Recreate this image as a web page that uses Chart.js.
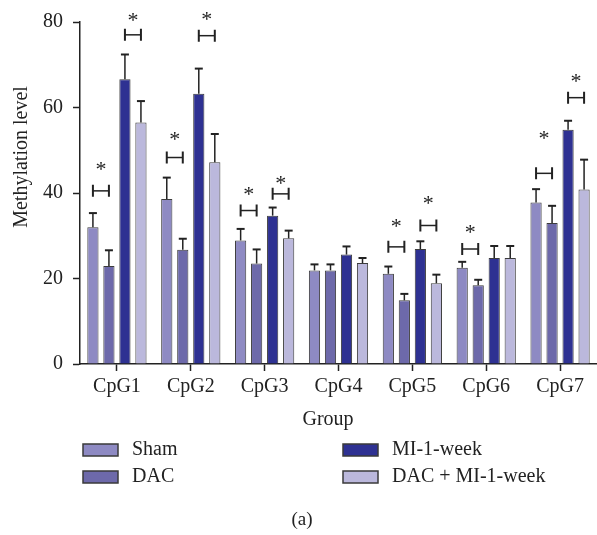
<!DOCTYPE html>
<html>
<head>
<meta charset="utf-8">
<script src="https://cdn.jsdelivr.net/npm/chart.js@4"></script>
<style>
html, body { margin: 0; padding: 0; background: #fff; }
canvas { display: block; }
</style>
</head>
<body>
<canvas id="graficoMetilacion" width="597" height="535"></canvas>
<script>
/* ── DATOS ──
Valores (nivel de metilación por sitio CpG). */
var categorias = ['CpG1', 'CpG2', 'CpG3', 'CpG4', 'CpG5', 'CpG6', 'CpG7'];
var nombresSeries = ['Sham', 'DAC', 'MI-1-week', 'DAC + MI-1-week'];
var valoresSham = [32.0, 38.6, 28.9, 21.9, 21.1, 22.5, 37.8];
var valoresDAC = [22.9, 26.7, 23.5, 21.9, 14.9, 18.4, 33.0];
var valoresMI = [66.6, 63.2, 34.7, 25.6, 26.9, 24.8, 54.8];
var valoresDACMI = [56.5, 47.2, 29.4, 23.6, 18.9, 24.8, 40.8];
/* Desviación (solo hacia arriba) de cada barra */
var errorSham = [3.3, 5.0, 2.7, 1.4, 1.7, 1.4, 3.1];
var errorDAC = [3.7, 2.6, 3.3, 1.4, 1.5, 1.3, 4.0];
var errorMI = [5.8, 5.9, 1.9, 1.9, 1.8, 2.8, 2.1];
var errorDACMI = [5.0, 6.6, 1.8, 1.2, 2.0, 2.8, 7.0];
/* Marcas del eje Y */
var ticksY = [0, 20, 40, 60, 80];
/* Comparaciones significativas: categoría, primera serie (se compara con la siguiente),
 nivel de la barra horizontal y nivel del asterisco */
var sigCategoria = [0, 0, 1, 1, 2, 2, 4, 4, 5, 6, 6];
var sigSerie = [0, 2, 0, 2, 0, 2, 0, 2, 0, 0, 2];
var sigNivel = [40.5, 77.0, 48.3, 76.8, 35.9, 39.8, 27.4, 32.4, 26.9, 44.6, 62.3];
var sigAsterisco = [46.2, 81.1, 53.3, 81.4, 40.5, 43.0, 32.9, 38.4, 31.5, 53.6, 66.9];

/* ── CONFIGURACIÓN GLOBAL ── */
Chart.defaults.color = '#222';
Chart.defaults.font.family = "'Liberation Serif', 'Times New Roman', serif";
Chart.defaults.font.size = 20;

var coloresSeries = ['#8e8ac3', '#6d69aa', '#2e3192', '#bbb8dc'];
var erroresSeries = [errorSham, errorDAC, errorMI, errorDACMI];

/* ── PLUGIN: barras de error y corchetes de significancia ── */
var pluginAnotaciones = {
    id: 'anotaciones',
    afterDatasetsDraw: function (chart) {
        var ctx = chart.ctx;
        var escalaY = chart.scales.y;
        ctx.save();
        ctx.strokeStyle = '#222';
        /* Barras de error: línea hacia arriba con tope corto */
        chart.data.datasets.forEach(function (ds, i) {
            var meta = chart.getDatasetMeta(i);
            meta.data.forEach(function (barra, j) {
                var yTop = escalaY.getPixelForValue(ds.data[j] + erroresSeries[i][j]);
                ctx.lineWidth = 1.5;
                ctx.beginPath();
                ctx.moveTo(barra.x, barra.y);
                ctx.lineTo(barra.x, yTop);
                ctx.stroke();
                ctx.lineWidth = 2;
                ctx.beginPath();
                ctx.moveTo(barra.x - 4, yTop);
                ctx.lineTo(barra.x + 4, yTop);
                ctx.stroke();
            });
        });
        /* Corchetes |—| con asterisco centrado en su nivel */
        ctx.fillStyle = '#222';
        ctx.font = "22px 'Liberation Serif', serif";
        ctx.textAlign = 'center';
        ctx.textBaseline = 'alphabetic';
        var m = ctx.measureText('*');
        var ajuste = (m.actualBoundingBoxAscent - m.actualBoundingBoxDescent) / 2;
        for (var k = 0; k < sigCategoria.length; k++) {
            var xa = chart.getDatasetMeta(sigSerie[k]).data[sigCategoria[k]].x;
            var xb = chart.getDatasetMeta(sigSerie[k] + 1).data[sigCategoria[k]].x;
            var y = escalaY.getPixelForValue(sigNivel[k]);
            ctx.lineWidth = 1.5;
            ctx.beginPath();
            ctx.moveTo(xa, y);
            ctx.lineTo(xb, y);
            ctx.stroke();
            ctx.lineWidth = 2;
            ctx.beginPath();
            ctx.moveTo(xa, y - 6);
            ctx.lineTo(xa, y + 6);
            ctx.moveTo(xb, y - 6);
            ctx.lineTo(xb, y + 6);
            ctx.stroke();
            ctx.fillText('*', (xa + xb) / 2, escalaY.getPixelForValue(sigAsterisco[k]) + ajuste);
        }
        ctx.restore();
    },
    /* Títulos de ejes, leyenda en dos columnas y rótulo (a) */
    afterDraw: function (chart) {
        var ctx = chart.ctx;
        ctx.save();
        ctx.fillStyle = '#222';
        ctx.font = "20px 'Liberation Serif', serif";
        ctx.textBaseline = 'middle';
        ctx.textAlign = 'center';
        /* Título del eje Y (girado) */
        ctx.save();
        ctx.translate(22, 157);
        ctx.rotate(-Math.PI / 2);
        ctx.fillText('Methylation level', 0, 0);
        ctx.restore();
        /* Título del eje X */
        ctx.fillText('Group', 328, 420);
        /* Leyenda: Sham y DAC a la izquierda, MI a la derecha */
        var posX = [83, 83, 343, 343];
        var posY = [450, 477, 450, 477];
        ctx.textAlign = 'left';
        chart.data.datasets.forEach(function (ds, i) {
            ctx.fillStyle = ds.backgroundColor;
            ctx.fillRect(posX[i], posY[i] - 6, 35, 12);
            ctx.strokeStyle = '#3a3a3a';
            ctx.lineWidth = 1.5;
            ctx.strokeRect(posX[i], posY[i] - 6, 35, 12);
            ctx.fillStyle = '#222';
            ctx.fillText(ds.label, posX[i] + 49, posY[i]);
        });
        /* Rótulo del panel */
        ctx.textAlign = 'center';
        ctx.font = "19px 'Liberation Serif', serif";
        ctx.fillText('(a)', 302, 520);
        ctx.restore();
    }
};

/* ── FUNCIÓN: crearGraficoMetilacion ── */
function crearGraficoMetilacion() {
    var canvas = document.getElementById('graficoMetilacion');
    var series = [valoresSham, valoresDAC, valoresMI, valoresDACMI];
    new Chart(canvas, {
        type: 'bar',
        data: {
            labels: categorias,
            datasets: series.map(function (valores, i) {
                return {
                    label: nombresSeries[i],
                    data: valores,
                    backgroundColor: coloresSeries[i],
                    borderColor: '#3c3c3c',
                    borderWidth: 1,
                    barPercentage: 0.7,
                    categoryPercentage: 0.867
                };
            })
        },
        options: {
            responsive: false,
            animation: false,
            layout: { padding: { top: 16, right: 0, bottom: 0, left: 0 } },
            plugins: {
                legend: { display: false },
                tooltip: { enabled: false }
            },
            scales: {
                x: {
                    grid: { display: true, drawOnChartArea: false, offset: false, tickLength: 7, tickColor: '#222', tickWidth: 1.5 },
                    border: { color: '#222', width: 1.5 },
                    ticks: { padding: 4, maxRotation: 0 },
                    afterFit: function (escala) { escala.height = 171; }
                },
                y: {
                    min: 0,
                    max: 80,
                    afterBuildTicks: function (escala) {
                        escala.ticks = ticksY.map(function (v) { return { value: v }; });
                    },
                    grid: { display: true, drawOnChartArea: false, tickLength: 7, tickColor: '#222', tickWidth: 1.5 },
                    border: { color: '#222', width: 1.5 },
                    ticks: { padding: 10 },
                    afterFit: function (escala) { escala.width = 80; }
                }
            }
        },
        plugins: [pluginAnotaciones]
    });
}

crearGraficoMetilacion();
</script>
</body>
</html>
